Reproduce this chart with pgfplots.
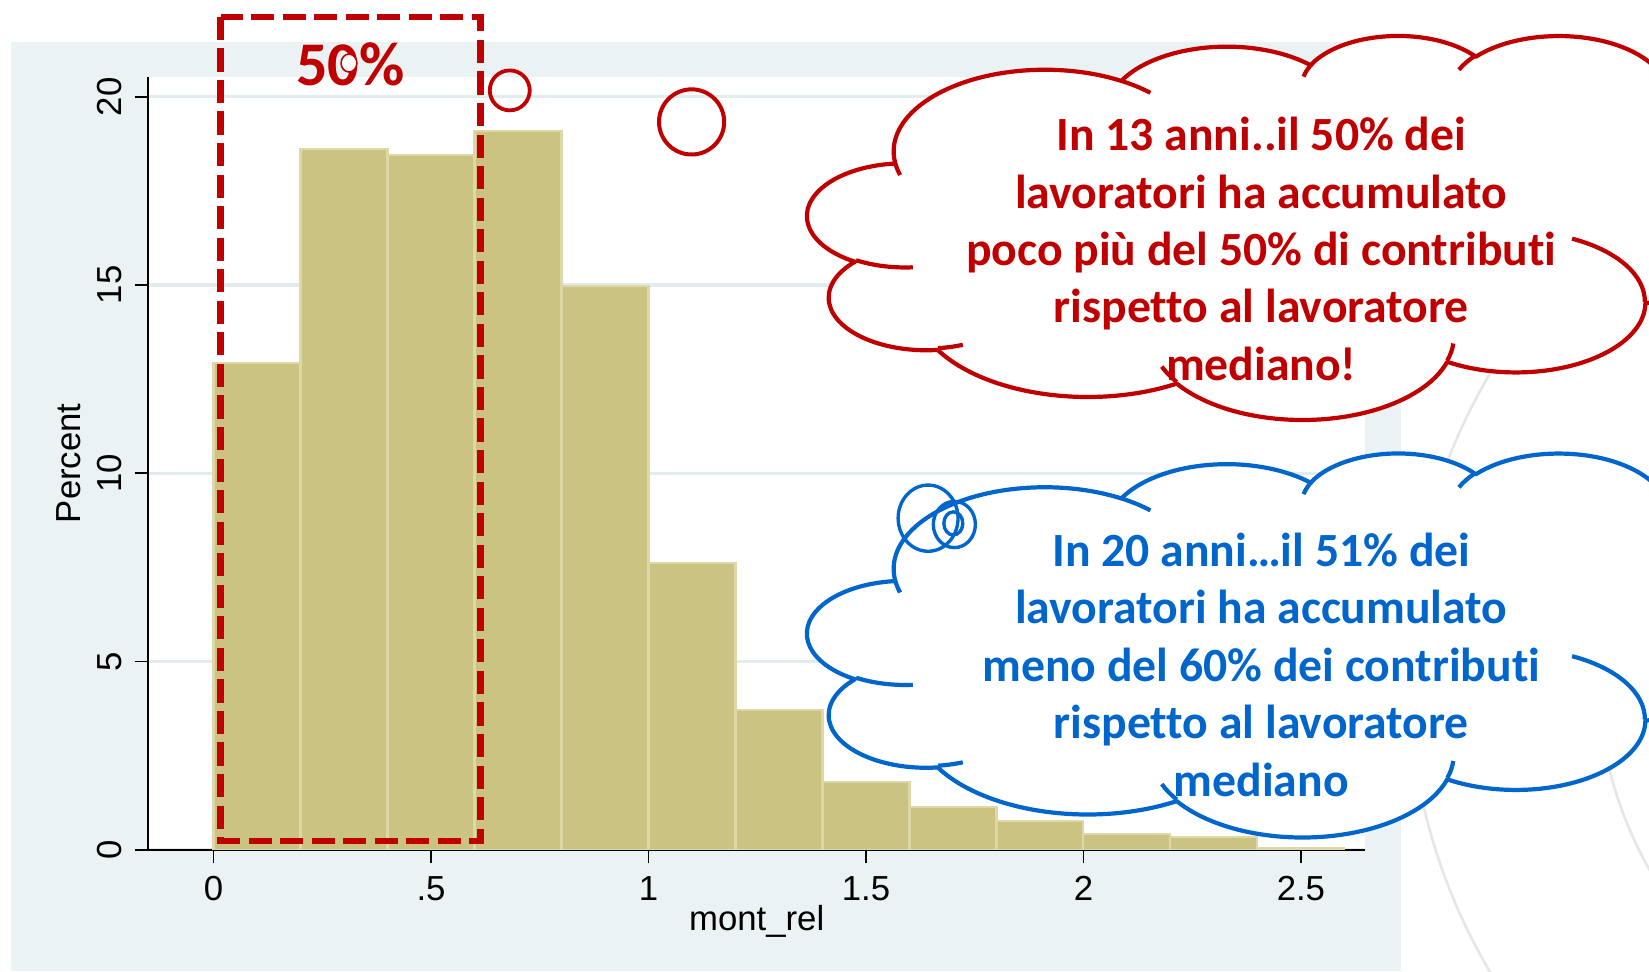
\documentclass[border=0pt]{standalone}
\usepackage{fontspec}
\setmainfont{Liberation Sans}
\newfontfamily\calfont[Ligatures=NoCommon]{Carlito}
\usepackage{pgfplots}
\pgfplotsset{compat=1.18}
\definecolor{bgc}{RGB}{234,242,243}
\definecolor{gridc}{RGB}{226,235,238}
\definecolor{barfill}{RGB}{203,195,130}
\definecolor{baredge}{RGB}{222,216,168}
\definecolor{cred}{RGB}{192,0,0}
\definecolor{cblue}{RGB}{0,102,204}
\definecolor{wm}{RGB}{230,230,230}

\newcommand\CW{9.20}
\newcommand\CH{3.65}
\newcommand\cloudarc[4]{%
  \pgfmathsetmacro\ta{atan2((#1)*sin(#3),(#2)*cos(#3))}%
  \pgfmathsetmacro\tb{atan2((#1)*sin((#3)+(#4)),(#2)*cos((#3)+(#4)))}%
  \pgfmathsetmacro\tb{ifthenelse(\tb<\ta,\tb+360,\tb)}%
  \pgfmathsetmacro\na{-1*(\ta)}%
  \pgfmathsetmacro\nb{-1*(\tb)}%
  \pgfmathsetmacro\rx{(#1)*\CW}%
  \pgfmathsetmacro\ry{(#2)*\CH}%
  \pgfpatharc{\na}{\nb}{\rx cm and \ry cm}%
}
\newcommand\cloudshape{%
  \pgfpathmoveto{\pgfpointxy{0.09028}{0.33264}}%
  \cloudarc{0.15632}{0.21273}{-190.4875}{123.7805}%
  \cloudarc{0.12345}{0.16822}{-144.1024}{89.9452}%
  \cloudarc{0.10104}{0.13762}{-145.8079}{99.7230}%
  \cloudarc{0.11243}{0.15266}{-130.9861}{117.2417}%
  \cloudarc{0.12345}{0.16836}{-78.7089}{109.0269}%
  \cloudarc{0.15683}{0.21343}{-46.2673}{130.2690}%
  \cloudarc{0.13391}{0.18211}{0.6250}{114.0333}%
  \cloudarc{0.15630}{0.21331}{22.4516}{115.1726}%
  \cloudarc{0.17870}{0.24405}{66.2426}{75.7110}%
  \cloudarc{0.10093}{0.13699}{-274.9421}{146.7356}%
  \cloudarc{0.10058}{0.13762}{-246.8285}{152.5189}%
  \pgfpathclose}
\newcommand\cloudhooks{%
  \pgfpathmoveto{\pgfpointxy{0.10863}{0.60595}}\cloudarc{0.10058}{0.13762}{86.7420}{26.4295}%
  \pgfpathmoveto{\pgfpointxy{0.16037}{0.80785}}\cloudarc{0.10093}{0.13699}{73.6105}{11.4475}%
  \pgfpathmoveto{\pgfpointxy{0.38144}{0.90486}}\cloudarc{0.15630}{0.21331}{137.6242}{14.0811}%
  \pgfpathmoveto{\pgfpointxy{0.66729}{0.80442}}\cloudarc{0.15630}{0.21331}{6.4533}{15.9984}%
  \pgfpathmoveto{\pgfpointxy{0.79003}{0.53134}}\cloudarc{0.13391}{0.18211}{-70.2924}{70.9174}%
  \pgfpathmoveto{\pgfpointxy{0.96755}{0.35542}}\cloudarc{0.12345}{0.16836}{30.3180}{27.7515}%
  \pgfpathmoveto{\pgfpointxy{0.88713}{0.12560}}\cloudarc{0.11243}{0.15266}{-13.7443}{14.8589}%
  \pgfpathmoveto{\pgfpointxy{0.67310}{0.09148}}\cloudarc{0.11243}{0.15266}{-149.1815}{18.1954}%
  \pgfpathmoveto{\pgfpointxy{0.51252}{0.10926}}\cloudarc{0.10104}{0.13762}{-163.4943}{17.6864}%
  \pgfpathmoveto{\pgfpointxy{0.32407}{0.12019}}\cloudarc{0.15632}{0.21273}{-66.7070}{12.3194}%
  \pgfpathmoveto{\pgfpointxy{0.09553}{0.36549}}\cloudarc{0.15632}{0.21273}{157.6544}{11.8582}%
}
\newcommand\drawcloud[3]{%
  \begin{pgfscope}
  \pgftransformshift{\pgfpoint{#1cm}{-#2cm}}%
  \pgfsetxvec{\pgfpoint{\CW cm}{0cm}}%
  \pgfsetyvec{\pgfpoint{0cm}{-\CH cm}}%
  \pgfsetlinewidth{0.04cm}%
  \pgfsetroundjoin
  \pgfsetstrokecolor{#3}%
  \pgfsetfillcolor{white}%
  \cloudshape
  \pgfusepath{fill,stroke}%
  \cloudhooks
  \pgfusepath{stroke}%
  \end{pgfscope}}

\begin{document}
\begin{tikzpicture}
\path[use as bounding box] (0,0) rectangle (15.68,-9.24);
\begin{scope}[x=0.01cm,y=-0.01cm]
  \draw[wm, line width=0.025cm] (1900,640) circle (560);
  \draw[wm, line width=0.025cm] (1900,640) circle (380);
  \fill[bgc] (10,40) rectangle (1333,924);
\end{scope}
\begin{axis}[
  at={(1.41cm,-8.08cm)}, anchor=south west,
  scale only axis, width=11.57cm, height=7.35cm,
  xmin=-0.15, xmax=2.6475, ymin=0, ymax=20.53,
  axis x line*=bottom, axis y line*=left,
  axis line style={black, line width=0.5pt},
  axis background/.style={fill=white},
  tick align=outside, major tick length=0.13cm,
  tick style={black, line width=0.5pt},
  xtick={0,0.5,1,1.5,2,2.5}, xticklabels={0,.5,1,1.5,2,2.5},
  ytick={0,5,10,15,20}, yticklabels={0,5,10,15,20},
  ymajorgrids, major grid style={gridc, line width=0.03cm},
  tick label style={font=\fontsize{9.4}{11}\selectfont},
  label style={font=\fontsize{9.4}{11}\selectfont},
  yticklabel style={rotate=90, anchor=south},
  xlabel={mont\_rel}, ylabel={Percent},
  x label style={at={(axis description cs:0.5,-0.0925)}, anchor=center},
  y label style={at={(axis description cs:-0.0657,0.5)}, anchor=center},
]
\addplot[ybar interval, fill=barfill, draw=baredge, line width=0.02cm] coordinates {
  (0,12.92) (0.2,18.61) (0.4,18.45) (0.6,19.09) (0.8,14.98) (1.0,7.61)
  (1.2,3.71) (1.4,1.79) (1.6,1.13) (1.8,0.77) (2.0,0.42) (2.2,0.35)
  (2.4,0.05) (2.6,0.05)};
\end{axis}
\begin{scope}[x=0.01cm,y=-0.01cm]
  \draw[cred, line width=0.063cm, dash pattern=on 0.22cm off 0.08cm] (210,16) rectangle (457,800);
  \node[text=cred, inner sep=0, anchor=base west, font=\calfont\bfseries\fontsize{16.8}{19}\selectfont] at (281,81) {50\%};
  \filldraw[fill=white, draw=cred, line width=0.015cm] (332,60) ellipse (7.5 and 8.5);
  \draw[cred, line width=0.036cm] (485,86) circle (19);
  \draw[cred, line width=0.038cm] (658,116) circle (31);
\end{scope}
\drawcloud{7.68}{0.33}{cred}
\drawcloud{7.68}{4.30}{cblue}
\begin{scope}[x=0.01cm,y=-0.01cm]
  \draw[cblue, line width=0.032cm] (883,493) ellipse (28.5 and 31.5);
  \draw[cblue, line width=0.032cm] (908,499) ellipse (20 and 22);
  \draw[cblue, line width=0.032cm] (907,498) ellipse (9 and 11);
  \begin{scope}[every node/.style={anchor=base, inner sep=0, font=\calfont\bfseries\fontsize{12.9}{15.5}\selectfont}]
  \node[text=cred] at (1200,143) {In 13 anni..il 50\% dei};
  \node[text=cred] at (1200,198) {lavoratori ha accumulato};
  \node[text=cred] at (1200,253) {poco più del 50\% di contributi};
  \node[text=cred] at (1200,307) {rispetto al lavoratore};
  \node[text=cred] at (1200,362) {mediano!};
  \node[text=cblue] at (1200,539) {In 20 anni…il 51\% dei};
  \node[text=cblue] at (1200,593) {lavoratori ha accumulato};
  \node[text=cblue] at (1200,648) {meno del 60\% dei contributi};
  \node[text=cblue] at (1200,703) {rispetto al lavoratore};
  \node[text=cblue] at (1200,758) {mediano};
  \end{scope}
\end{scope}
\end{tikzpicture}
\end{document}
